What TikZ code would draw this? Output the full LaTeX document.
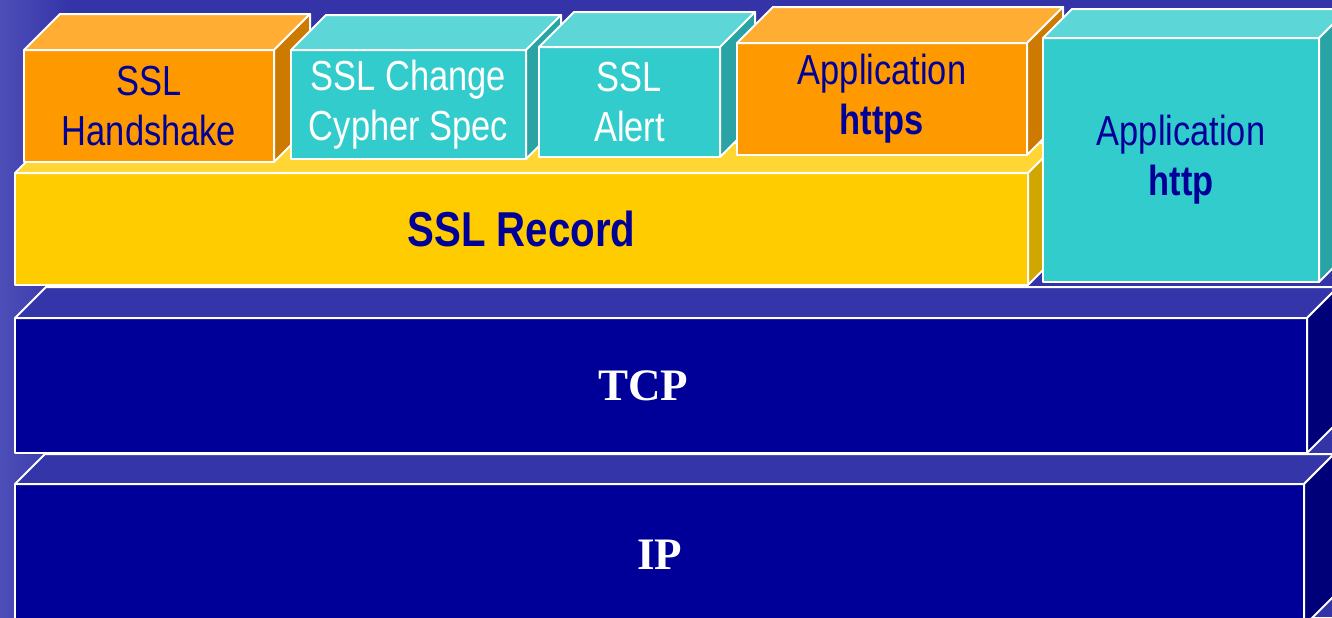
\documentclass[tikz,border=0pt]{standalone}
\usepackage{fontspec}
\newfontfamily\boxfont{Liberation Sans}[FakeStretch=0.82]
\newfontfamily\layerfont{Liberation Serif}
\usetikzlibrary{positioning}

\definecolor{bgblue}{RGB}{52,52,168}
\definecolor{bglight}{RGB}{78,78,184}
\definecolor{navy}{RGB}{0,0,153}
\definecolor{navytop}{RGB}{53,53,170}
\definecolor{navyside}{RGB}{0,0,120}
\definecolor{orangefront}{RGB}{255,153,0}
\definecolor{orangetop}{RGB}{255,173,51}
\definecolor{orangeside}{RGB}{204,122,0}
\definecolor{tealfront}{RGB}{51,204,204}
\definecolor{tealtop}{RGB}{92,214,214}
\definecolor{tealside}{RGB}{41,163,163}
\definecolor{yellowfront}{RGB}{255,204,0}
\definecolor{yellowtop}{RGB}{255,214,51}
\definecolor{yellowside}{RGB}{208,166,0}

% top and right faces behind the front node #1, depth #2
\newcommand{\sidefaces}[4]{%
  \filldraw[face, fill=#3] (#1.north west) -- ++(#2,-#2) -- ([shift={(#2,-#2)}]#1.north east) -- (#1.north east) -- cycle;
  \filldraw[face, fill=#4] (#1.north east) -- ++(#2,-#2) -- ([shift={(#2,-#2)}]#1.south east) -- (#1.south east) -- cycle;
}

\begin{document}
\begin{tikzpicture}[
    x=0.5pt, y=-0.5pt,
    face/.style={draw=white, line width=1pt, line join=round},
    blockbox/.style={face, inner sep=0pt, outer sep=0pt, align=center, text=navy, font=\boxfont\fontsize{21}{25}\selectfont},
    orangebox/.style={blockbox, fill=orangefront},
    tealbox/.style={blockbox, fill=tealfront},
    recordbox/.style={blockbox, fill=yellowfront, font=\boxfont\fontsize{24.5}{29}\selectfont\bfseries},
    netbox/.style={blockbox, fill=navy, text=white, font=\layerfont\fontsize{22.5}{27}\selectfont\bfseries}
]
    \useasboundingbox (0,0) rectangle (1332,617);
    \clip (0,0) rectangle (1332,617);

    % Slide background
    \fill[bgblue] (0,0) rectangle (1332,617);
    \shade[left color=bglight, right color=bgblue] (0,0) rectangle (70,617);

    % Network layers
    \node (ip) [netbox, minimum width=644.5pt, minimum height=71pt] at (659.5,555) {IP};
    \sidefaces{ip}{30}{navytop}{navyside}
    \node (tcp) [netbox, minimum width=646pt, minimum height=67.5pt] at (661,385.5) {TCP\hspace*{18pt}};
    \sidefaces{tcp}{31}{navytop}{navyside}

    % SSL Record layer
    \node (rec) [recordbox, minimum width=506.5pt, minimum height=56pt] at (521.5,229) {SSL Record};
    \sidefaces{rec}{30}{yellowtop}{yellowside}

    % Protocols on top of the record layer
    \node (hshake) [orangebox, minimum width=125pt, minimum height=56pt] at (149,106) {SSL\\Handshake};
    \sidefaces{hshake}{36}{orangetop}{orangeside}
    \node (ccs) [tealbox, text=white, minimum width=117.5pt, minimum height=54.5pt] at (408.5,104.5) {SSL Change\\Cypher Spec};
    \sidefaces{ccs}{35}{tealtop}{tealside}
    \node (alert) [tealbox, text=white, minimum width=90.5pt, minimum height=55pt] at (629.5,102) {SSL\\Alert};
    \sidefaces{alert}{35}{tealtop}{tealside}
    \node (https) [orangebox, minimum width=145pt, minimum height=56pt] at (882,99) {Application\\\textbf{https}};
    \sidefaces{https}{36}{orangetop}{orangeside}

    % Plain application straight on TCP
    \node (http) [tealbox, minimum width=138pt, minimum height=122pt] at (1181,160) {Application\\\textbf{http}};
    \sidefaces{http}{29}{tealtop}{tealside}

\end{tikzpicture}
\end{document}
